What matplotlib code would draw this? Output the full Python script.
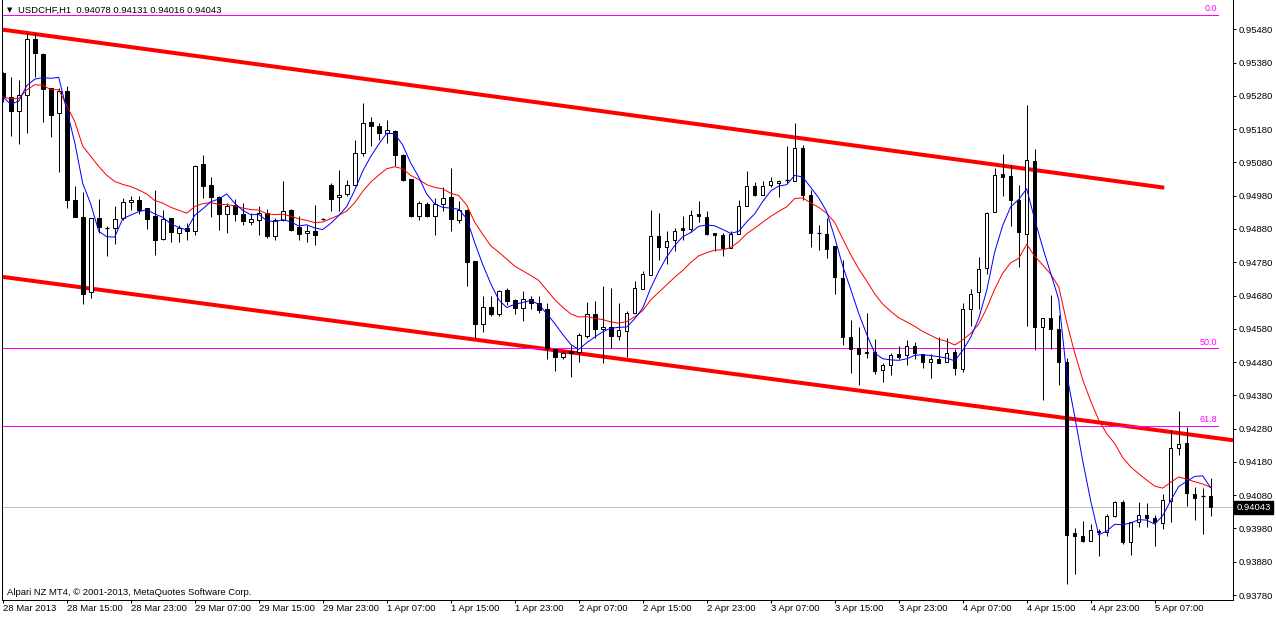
import matplotlib
matplotlib.use("Agg")
import matplotlib.pyplot as plt
import matplotlib.transforms as mtransforms
import pandas as pd

# USDCHF H1, 28 Mar 2013 07:00 -> 5 Apr 2013
opens = [0.95349, 0.95276, 0.95233, 0.95282, 0.95450, 0.95406, 0.95303, 0.95227, 0.95295, 0.94968,
         0.94916, 0.94690, 0.94913, 0.94883, 0.94883, 0.94913, 0.94960, 0.94968, 0.94943, 0.94920,
         0.94851, 0.94913, 0.94868, 0.94883, 0.94873, 0.95076, 0.95013, 0.94976, 0.94925, 0.94953,
         0.94926, 0.94900, 0.94908, 0.94928, 0.94858, 0.94908, 0.94938, 0.94885, 0.94868, 0.94875,
         0.94911, 0.95013, 0.94976, 0.94985, 0.95011, 0.95108, 0.95201, 0.95188, 0.95168, 0.95174,
         0.95103, 0.95031, 0.94918, 0.94956, 0.94918, 0.94955, 0.94976, 0.94908, 0.94938, 0.94783,
         0.94593, 0.94645, 0.94623, 0.94698, 0.94668, 0.94643, 0.94670, 0.94658, 0.94638, 0.94518,
         0.94496, 0.94513, 0.94510, 0.94558, 0.94623, 0.94580, 0.94586, 0.94558, 0.94573, 0.94628,
         0.94700, 0.94743, 0.94860, 0.94825, 0.94846, 0.94882, 0.94880, 0.94926, 0.94916, 0.94868,
         0.94863, 0.94823, 0.94865, 0.94950, 0.95008, 0.94983, 0.95013, 0.95018, 0.95026, 0.95023,
         0.95123, 0.94983, 0.94868, 0.94865, 0.94828, 0.94733, 0.94556, 0.94523, 0.94511, 0.94511,
         0.94456, 0.94471, 0.94503, 0.94501, 0.94528, 0.94503, 0.94480, 0.94488, 0.94481, 0.94511,
         0.94460, 0.94638, 0.94691, 0.94763, 0.94930, 0.95046, 0.95040, 0.94968, 0.94865, 0.95085,
         0.94585, 0.94613, 0.94580, 0.94480, 0.93966, 0.93958, 0.93943, 0.93972, 0.93968, 0.94016,
         0.94058, 0.93938, 0.93998, 0.94020, 0.94011, 0.93995, 0.94063, 0.94223, 0.94236, 0.94085,
         0.94078, 0.94078]
highs = [0.95352, 0.95336, 0.95328, 0.95468, 0.95468, 0.95410, 0.95303, 0.95303, 0.95310, 0.95010,
         0.94990, 0.94913, 0.94970, 0.94890, 0.94948, 0.94973, 0.94978, 0.94980, 0.94943, 0.94998,
         0.94936, 0.94913, 0.94893, 0.94898, 0.95073, 0.95103, 0.95036, 0.94980, 0.94958, 0.94970,
         0.94958, 0.94928, 0.94948, 0.94941, 0.94913, 0.95023, 0.94940, 0.94918, 0.94893, 0.94953,
         0.94913, 0.95018, 0.95058, 0.95028, 0.95148, 0.95258, 0.95216, 0.95198, 0.95208, 0.95176,
         0.95105, 0.95031, 0.94965, 0.94961, 0.94973, 0.95006, 0.95064, 0.94963, 0.94940, 0.94785,
         0.94678, 0.94678, 0.94698, 0.94703, 0.94670, 0.94693, 0.94678, 0.94680, 0.94658, 0.94520,
         0.94513, 0.94530, 0.94566, 0.94660, 0.94663, 0.94708, 0.94703, 0.94658, 0.94633, 0.94723,
         0.94753, 0.94936, 0.94928, 0.94875, 0.94883, 0.94918, 0.94938, 0.94963, 0.94933, 0.94868,
         0.94868, 0.94873, 0.94966, 0.95053, 0.95020, 0.95023, 0.95036, 0.95028, 0.95128, 0.95198,
         0.95133, 0.94998, 0.94893, 0.94913, 0.94828, 0.94788, 0.94605, 0.94585, 0.94626, 0.94550,
         0.94478, 0.94506, 0.94528, 0.94545, 0.94540, 0.94505, 0.94503, 0.94555, 0.94551, 0.94520,
         0.94656, 0.94701, 0.94796, 0.94931, 0.95063, 0.95106, 0.95073, 0.95013, 0.95253, 0.95121,
         0.94613, 0.94683, 0.94620, 0.94493, 0.93980, 0.94003, 0.93993, 0.93978, 0.94023, 0.94063,
         0.94065, 0.93998, 0.94058, 0.94055, 0.94020, 0.94083, 0.94275, 0.94333, 0.94285, 0.94105,
         0.94101, 0.94131]
lows = [0.95262, 0.95160, 0.95136, 0.95168, 0.95338, 0.95200, 0.95155, 0.95050, 0.94943, 0.94915,
        0.94653, 0.94673, 0.94868, 0.94798, 0.94836, 0.94908, 0.94938, 0.94926, 0.94880, 0.94801,
        0.94848, 0.94840, 0.94840, 0.94848, 0.94863, 0.94973, 0.94915, 0.94876, 0.94868, 0.94903,
        0.94891, 0.94893, 0.94861, 0.94853, 0.94848, 0.94903, 0.94875, 0.94848, 0.94840, 0.94831,
        0.94908, 0.94933, 0.94933, 0.94978, 0.95008, 0.95098, 0.95130, 0.95148, 0.95138, 0.95070,
        0.95023, 0.94915, 0.94908, 0.94915, 0.94861, 0.94933, 0.94873, 0.94898, 0.94710, 0.94553,
        0.94570, 0.94618, 0.94618, 0.94650, 0.94623, 0.94603, 0.94640, 0.94626, 0.94488, 0.94453,
        0.94488, 0.94436, 0.94480, 0.94553, 0.94553, 0.94478, 0.94523, 0.94546, 0.94496, 0.94628,
        0.94700, 0.94743, 0.94786, 0.94776, 0.94813, 0.94846, 0.94870, 0.94900, 0.94863, 0.94813,
        0.94800, 0.94823, 0.94865, 0.94948, 0.94980, 0.94983, 0.95006, 0.94976, 0.95018, 0.95023,
        0.94968, 0.94826, 0.94816, 0.94793, 0.94685, 0.94531, 0.94448, 0.94410, 0.94493, 0.94445,
        0.94420, 0.94440, 0.94490, 0.94471, 0.94490, 0.94463, 0.94433, 0.94478, 0.94481, 0.94441,
        0.94450, 0.94588, 0.94638, 0.94746, 0.94930, 0.94980, 0.94890, 0.94766, 0.94588, 0.94516,
        0.94366, 0.94520, 0.94410, 0.93813, 0.93843, 0.93938, 0.93943, 0.93898, 0.93958, 0.94013,
        0.93933, 0.93901, 0.93983, 0.93983, 0.93926, 0.93978, 0.93998, 0.94200, 0.94046, 0.94006,
        0.93963, 0.94016]
closes = [0.95277, 0.95233, 0.95282, 0.95450, 0.95408, 0.95301, 0.95223, 0.95295, 0.94966, 0.94915,
          0.94686, 0.94913, 0.94886, 0.94883, 0.94910, 0.94961, 0.94968, 0.94938, 0.94911, 0.94848,
          0.94911, 0.94870, 0.94883, 0.94873, 0.95068, 0.95008, 0.94976, 0.94924, 0.94950, 0.94926,
          0.94903, 0.94911, 0.94928, 0.94858, 0.94908, 0.94935, 0.94878, 0.94866, 0.94875, 0.94861,
          0.94911, 0.94971, 0.94982, 0.95011, 0.95108, 0.95198, 0.95188, 0.95168, 0.95176, 0.95101,
          0.95028, 0.94918, 0.94958, 0.94918, 0.94956, 0.94973, 0.94910, 0.94938, 0.94780, 0.94593,
          0.94645, 0.94623, 0.94695, 0.94663, 0.94643, 0.94670, 0.94656, 0.94636, 0.94523, 0.94495,
          0.94506, 0.94506, 0.94560, 0.94623, 0.94580, 0.94586, 0.94558, 0.94575, 0.94628, 0.94703,
          0.94746, 0.94860, 0.94825, 0.94845, 0.94875, 0.94878, 0.94923, 0.94918, 0.94866, 0.94862,
          0.94823, 0.94865, 0.94948, 0.95008, 0.94983, 0.95008, 0.95023, 0.95023, 0.95028, 0.95123,
          0.94983, 0.94868, 0.94865, 0.94821, 0.94735, 0.94555, 0.94518, 0.94503, 0.94506, 0.94453,
          0.94470, 0.94501, 0.94496, 0.94528, 0.94506, 0.94480, 0.94488, 0.94478, 0.94508, 0.94463,
          0.94638, 0.94685, 0.94760, 0.94928, 0.95043, 0.95036, 0.94966, 0.94870, 0.95088, 0.94585,
          0.94613, 0.94578, 0.94480, 0.93961, 0.93956, 0.93943, 0.93975, 0.93968, 0.94018, 0.94058,
          0.93938, 0.93998, 0.94020, 0.94011, 0.93998, 0.94065, 0.94223, 0.94233, 0.94088, 0.94073,
          0.94074, 0.94043]

# time axis labels, one every 8 bars
label_bars = [0, 8, 16, 24, 32, 40, 48, 56, 64, 72, 80, 88, 96, 104, 112, 120, 128, 136, 144]
label_texts = ["28 Mar 2013", "28 Mar 15:00", "28 Mar 23:00", "29 Mar 07:00", "29 Mar 15:00",
               "29 Mar 23:00", "1 Apr 07:00", "1 Apr 15:00", "1 Apr 23:00", "2 Apr 07:00",
               "2 Apr 15:00", "2 Apr 23:00", "3 Apr 07:00", "3 Apr 15:00", "3 Apr 23:00",
               "4 Apr 07:00", "4 Apr 15:00", "4 Apr 23:00", "5 Apr 07:00"]
price_ticks = [0.93780, 0.93880, 0.93980, 0.94080, 0.94180, 0.94280, 0.94380, 0.94480, 0.94580,
               0.94680, 0.94780, 0.94880, 0.94980, 0.95080, 0.95180, 0.95280, 0.95380, 0.95480]

# drawn objects: channel trendlines (bar, price) and fibo levels
upper_channel_bars = [-0.34, 145.2]
upper_channel_prices = [0.95480, 0.95004]
lower_channel_bars = [-0.34, 153.8]
lower_channel_prices = [0.94737, 0.94245]
fib_names = ["0.0", "50.0", "61.8"]
fib_prices = [0.95523, 0.94521, 0.94288]
last_price = 0.94043

W, H = 1276, 618
fig = plt.figure(figsize=(W / 100, H / 100), dpi=100)
ax = fig.add_axes([2 / W, 1 - 600 / H, 1231 / W, 600 / H])
ax.set_xlim(-0.09, 153.79)
ax.set_ylim(0.93765, 0.95568)

px = 0.72  # one pixel in points
font = "Liberation Sans"

n = len(closes)
bars = list(range(n))

# channel lines behind candles
ax.plot(upper_channel_bars, upper_channel_prices, color="#ff0000", lw=4 * px, zorder=1,
        solid_capstyle="butt")
ax.plot(lower_channel_bars, lower_channel_prices, color="#ff0000", lw=4 * px, zorder=1,
        solid_capstyle="butt")

# fibo levels
for name, p in zip(fib_names, fib_prices):
    ax.plot([-0.34, 151.9], [p, p], color="#ff00ff", lw=px, zorder=1)
    ax.text(151.8, p + 0.00005, name, color="#ff00ff", fontsize=6.5, family=font,
            ha="right", va="bottom", zorder=5)

ax.axhline(last_price, color="#c0c0c0", lw=px, zorder=0.5)

# candles
ax.vlines(bars, lows, highs, color="black", lw=px, zorder=2)
for i in bars:
    o, c = opens[i], closes[i]
    if abs(c - o) < 0.00004:
        ax.hlines(o, i - 0.25, i + 0.25, color="black", lw=px * 1.2, zorder=3)
    elif c > o:
        ax.bar(i, c - o, bottom=o, width=0.45, facecolor="white", edgecolor="black",
               lw=px, zorder=3)
    else:
        ax.bar(i, o - c, bottom=c, width=0.45, facecolor="black", edgecolor="black",
               lw=px, zorder=3)

# moving averages
cs = pd.Series(closes)
ma_fast = cs.rolling(5, min_periods=1).mean()
ma_slow = cs.ewm(span=13, adjust=False).mean()
ax.plot(bars, ma_slow, color="#ff0000", lw=px, zorder=4)
ax.plot(bars, ma_fast, color="#0000ff", lw=px, zorder=4)

# axes styling
for s in ["top"]:
    ax.spines[s].set_visible(False)
for s in ["left", "right", "bottom"]:
    ax.spines[s].set_linewidth(px)

ax.yaxis.tick_right()
ax.set_yticks(price_ticks)
ax.set_yticklabels(["%.5f" % t for t in price_ticks])
ax.tick_params(axis="y", direction="out", length=3 * px, width=px, pad=2, labelsize=6.8)
ax.set_xticks(label_bars)
ax.set_xticklabels(label_texts, ha="left")
ax.tick_params(axis="x", direction="out", length=3 * px, width=px, pad=1, labelsize=6.8)
for lab in ax.get_xticklabels() + ax.get_yticklabels():
    lab.set_family(font)

# current price box on the price scale
trans = mtransforms.blended_transform_factory(ax.transAxes, ax.transData)
ax.text(1.0028, last_price, "0.94043", transform=trans, color="white", fontsize=6.8,
        family=font, va="center", ha="left",
        bbox=dict(boxstyle="square,pad=0.25", facecolor="black", edgecolor="black"),
        clip_on=False, zorder=6)

# header and footer text
fig.text(7 / W, 1 - 10 / H, "\u25bc", fontsize=5, va="center", ha="left", color="black")
fig.text(18 / W, 1 - 10 / H, "USDCHF,H1  0.94078 0.94131 0.94016 0.94043", fontsize=6.8,
         family=font, va="center", ha="left", color="black")
fig.text(7 / W, 1 - 595 / H, "Alpari NZ MT4, \u00a9 2001-2013, MetaQuotes Software Corp.",
         fontsize=6.8, family=font, va="baseline", ha="left", color="black")

fig.savefig("out.png", dpi=100, facecolor="white")
